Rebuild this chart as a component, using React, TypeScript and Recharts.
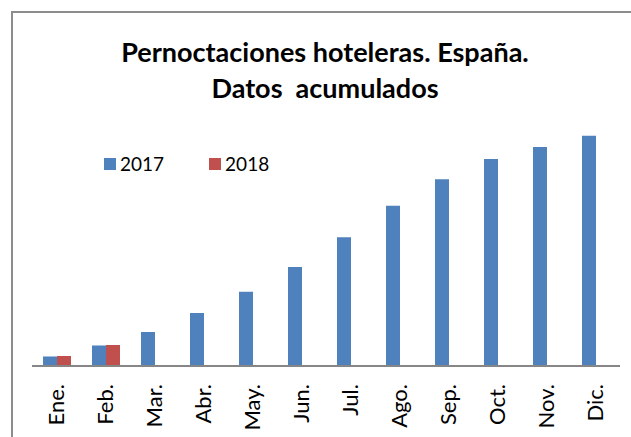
import React from "react";
import { BarChart, Bar, XAxis, YAxis } from "recharts";

/* ---------------- DATA ---------------- */
const months = ["Ene.", "Feb.", "Mar.", "Abr.", "May.", "Jun.", "Jul.", "Ago.", "Sep.", "Oct.", "Nov.", "Dic."];
// pernoctaciones acumuladas (millones, estimadas del gráfico)
const v2017 = [14.1, 30.4, 50.4, 78.5, 110, 146.7, 190.7, 237.5, 276.6, 306.7, 324.4, 341.2];
const v2018: (number | null)[] = [14.8, 31.1, null, null, null, null, null, null, null, null, null, null];
const seriesNames = ["2017", "2018"];

const colors = { y2017: "#4F81BD", y2018: "#C0504D" };
const font = "Lato, Calibri, sans-serif";

const data = months.map((m, i) => ({ month: m, a: v2017[i], b: v2018[i] }));

/* ---------------- TICK ---------------- */
const MonthTick = ({ x, y, payload }: any) => (
  <g transform={`translate(${x},${y})`}>
    <text
      transform="rotate(-90)"
      x={-10}
      y={0}
      dy="0.36em"
      textAnchor="end"
      fill="#000"
      fontSize={22}
      fontFamily={font}
    >
      {payload.value}
    </text>
  </g>
);

/* ---------------- LEGEND (html, outside the plot) ---------------- */
const LegendBox = () => (
  <div
    style={{
      position: "absolute",
      left: 104,
      top: 152,
      display: "flex",
      alignItems: "center",
      fontFamily: font,
      fontSize: 19,
      lineHeight: "24px",
      color: "#000",
    }}
  >
    <span style={{ width: 12, height: 12, background: colors.y2017, marginRight: 4 }} />
    <span style={{ marginRight: 45 }}>{seriesNames[0]}</span>
    <span style={{ width: 12, height: 12, background: colors.y2018, marginRight: 4 }} />
    <span>{seriesNames[1]}</span>
  </div>
);

export default function App() {
  return (
    <div style={{ position: "absolute", left: 0, top: 0, width: 631, height: 437, overflow: "hidden", background: "#fff" }}>
      {/* chart frame (cut at the right and bottom) */}
      <div
        style={{
          position: "absolute",
          left: 11,
          top: 11,
          width: 700,
          height: 500,
          border: "2px solid #8c8c8c",
        }}
      />
      <div
        style={{
          position: "absolute",
          left: 0,
          top: 34,
          width: 650,
          textAlign: "center",
          fontFamily: font,
          fontWeight: 700,
          fontSize: 27,
          lineHeight: "36px",
          color: "#000",
          whiteSpace: "pre",
        }}
      >
        {"Pernoctaciones hoteleras. España.\nDatos  acumulados"}
      </div>
      <LegendBox />
      <BarChart
        width={631}
        height={437}
        data={data}
        margin={{ top: 96, right: 11, bottom: 0, left: 32 }}
        barSize={14}
        barGap={0}
        style={{ position: "absolute", left: 0, top: 0 }}
      >
        <XAxis
          dataKey="month"
          tick={<MonthTick />}
          tickLine={false}
          axisLine={{ stroke: "#868686", strokeWidth: 2 }}
          height={71}
          interval={0}
        />
        <YAxis hide domain={[0, 400]} />
        <Bar dataKey="a" name="2017" fill={colors.y2017} isAnimationActive={false} />
        <Bar dataKey="b" name="2018" fill={colors.y2018} isAnimationActive={false} />
      </BarChart>
    </div>
  );
}
